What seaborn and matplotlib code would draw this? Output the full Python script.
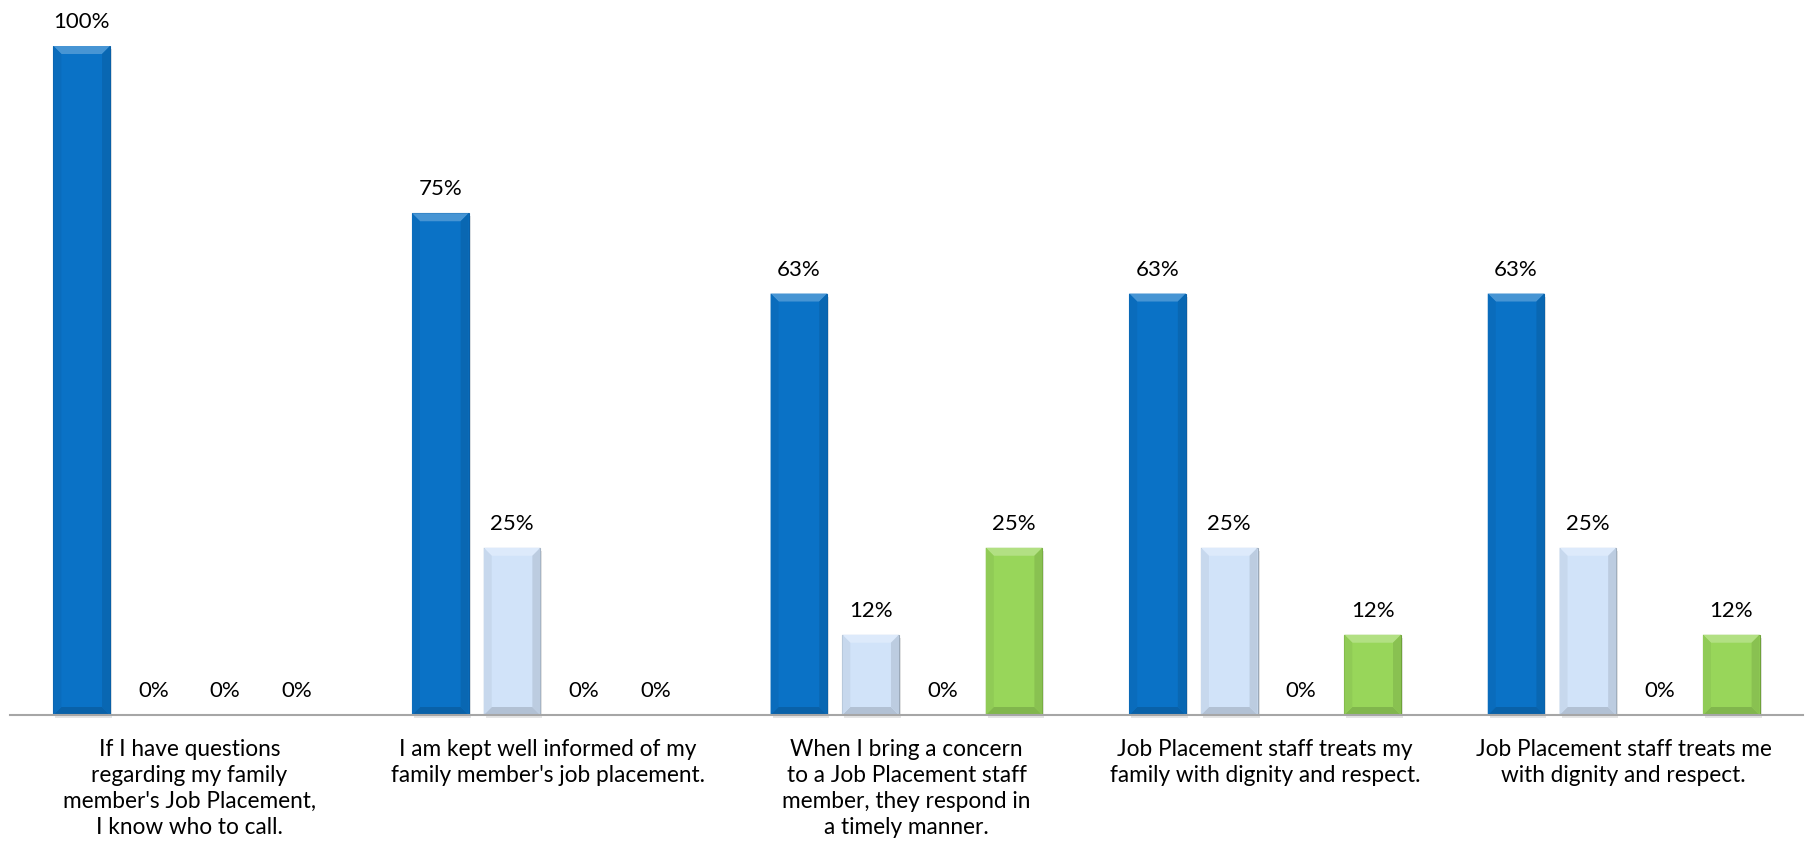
import matplotlib
matplotlib.use("Agg")
import matplotlib.pyplot as plt
from matplotlib.patches import Polygon, Rectangle
from matplotlib.colors import to_rgb
import numpy as np
import pandas as pd
import seaborn as sns

# Survey statements (x-axis categories)
questions = [
    "If I have questions\nregarding my family\nmember's Job Placement,\nI know who to call.",
    "I am kept well informed of my\nfamily member's job placement.",
    "When I bring a concern\nto a Job Placement staff\nmember, they respond in\na timely manner.",
    "Job Placement staff treats my\nfamily with dignity and respect.",
    "Job Placement staff treats me\nwith dignity and respect.",
]
responses = ["Agree", "Somewhat Agree", "Disagree", "Don't Know"]

# Percentage of respondents per response
agree = [100, 75, 63, 63, 63]
somewhat_agree = [0, 25, 12, 25, 25]
disagree = [0, 0, 0, 0, 0]
dont_know = [0, 0, 25, 12, 12]

colors = ["#0A72C6", "#D1E3F9", "#F2A23A", "#98D65A"]
edge_colors = ["#0A5FA6", "#9AA8B8", "#C07820", "#6FA23A"]

df = pd.DataFrame({
    "question": np.repeat(questions, 4),
    "response": responses * len(questions),
    "pct": np.ravel(np.column_stack([agree, somewhat_agree, disagree, dont_know])),
})

sns.set_theme(style="white")
plt.rcParams["font.family"] = ["Lato", "DejaVu Sans"]

W, H = 1808, 863
fig = plt.figure(figsize=(W / 100, H / 100), dpi=100)
ax_left, ax_right = 10, 1803
ax_top, ax_bottom = 46, 715
ax = fig.add_axes([ax_left / W, 1 - ax_bottom / H,
                   (ax_right - ax_left) / W, (ax_bottom - ax_top) / H])

sns.barplot(data=df, x="question", y="pct", hue="response",
            hue_order=responses, order=questions, palette=colors,
            width=0.8, gap=0.21, legend=False, ax=ax, saturation=1)

ax.set_xlim(-0.5, len(questions) - 0.5)
ax.set_ylim(0, 100)

# pixel -> data conversion for bevel sizes
px_x = (len(questions)) / (ax_right - ax_left)
px_y = 100 / (ax_bottom - ax_top)
bx, by = 8 * px_x, 8 * px_y


def shade(c, f):
    r = np.array(to_rgb(c))
    if f >= 0:
        return tuple(r + (1 - r) * f)
    return tuple(r * (1 + f))


for i, container in enumerate(ax.containers):
    base = colors[i]
    for bar in container:
        x, y = bar.get_x(), bar.get_y()
        w, h = bar.get_width(), bar.get_height()
        bar.set_edgecolor(edge_colors[i])
        bar.set_linewidth(0.8)
        if h <= 0:
            continue
        # soft drop shadow
        ax.add_patch(Rectangle((x + 2 * px_x, y - 3 * px_y), w, h,
                               facecolor="#000000", alpha=0.10, zorder=bar.get_zorder() - 0.1,
                               linewidth=0, clip_on=False))
        byy = min(by, h / 3)
        z = bar.get_zorder() + 0.05
        faces = [
            ([(x, y + h), (x + w, y + h), (x + w - bx, y + h - byy), (x + bx, y + h - byy)], shade(base, 0.25)),
            ([(x, y), (x + w, y), (x + w - bx, y + byy), (x + bx, y + byy)], shade(base, -0.15)),
            ([(x, y), (x + bx, y + byy), (x + bx, y + h - byy), (x, y + h)], shade(base, -0.05)),
            ([(x + w, y), (x + w - bx, y + byy), (x + w - bx, y + h - byy), (x + w, y + h)], shade(base, -0.10)),
        ]
        for pts, fc in faces:
            ax.add_patch(Polygon(pts, closed=True, facecolor=fc, edgecolor="none",
                                 zorder=z, clip_on=False))

    # value labels
    for bar in container:
        h = bar.get_height()
        ax.annotate(f"{h:.0f}%", (bar.get_x() + bar.get_width() / 2, h),
                    xytext=(0, 10), textcoords="offset points",
                    ha="center", va="bottom", fontsize=16, color="#000000",
                    annotation_clip=False)

sns.despine(ax=ax, left=True, top=True, right=True)
ax.spines["bottom"].set_color("#A6A6A6")
ax.spines["bottom"].set_linewidth(1.5)
ax.set_yticks([])
ax.set_xlabel("")
ax.set_ylabel("")
ax.tick_params(axis="x", length=0, pad=17, labelsize=16.3, colors="#000000")
for lbl in ax.get_xticklabels():
    lbl.set_linespacing(1.3)

fig.savefig("out.png", dpi=100)
